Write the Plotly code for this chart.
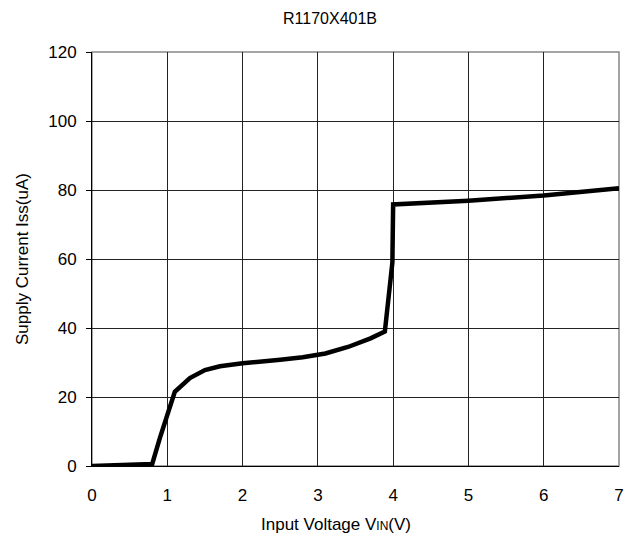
import plotly.graph_objects as go

vin = [0.0, 0.8, 0.9, 1.1, 1.3, 1.5, 1.7, 2.0, 2.5, 2.8, 3.1, 3.4, 3.7, 3.89, 3.99, 4.0, 5.0, 6.0, 7.0]
iss = [0.0, 0.6, 8.0, 21.5, 25.5, 27.8, 28.9, 29.8, 30.8, 31.5, 32.6, 34.5, 37.0, 39.0, 59.0, 75.8, 76.9, 78.4, 80.5]

W, H = 633, 535
L, R, T, B = 84, 22, 44, 77

fig = go.Figure()
fig.add_trace(go.Scatter(x=vin, y=iss, mode="lines",
                         line=dict(color="black", width=4.5), showlegend=False, cliponaxis=False))

font = "Liberation Sans, Arial, sans-serif"
fig.update_layout(
    width=W, height=H,
    margin=dict(l=L, r=R, t=T, b=B),
    paper_bgcolor="white", plot_bgcolor="white",
    font=dict(family=font, size=17, color="black"),
    shapes=[dict(type="rect", xref="paper", yref="paper", x0=0, x1=1, y0=0, y1=1,
                 line=dict(color="#888", width=1.5), layer="below")],
    xaxis=dict(range=[0, 7], dtick=1, showgrid=True, gridcolor="#222", gridwidth=1,
               showline=True, linecolor="black", linewidth=1, zeroline=False,
               ticks="", ticklabelstandoff=14, tickfont=dict(size=17)),
    yaxis=dict(range=[0, 120], dtick=20, showgrid=True, gridcolor="#222", gridwidth=1,
               showline=True, linecolor="black", linewidth=1, zeroline=False,
               ticks="outside", ticklen=5, tickcolor="black", ticklabelstandoff=6,
               tickfont=dict(size=17)),
    annotations=[
        dict(text="R1170X401B", xref="paper", yref="paper",
             x=(322 - L) / (W - L - R), y=1 + (T - 10) / (H - T - B),
             xanchor="center", yanchor="middle", showarrow=False, font=dict(size=16)),
        dict(text="Input Voltage V<span style='font-size:12px'>IN</span>(V)", xref="paper", yref="paper",
             x=(328 - L) / (W - L - R), y=-(516 - (H - B)) / (H - T - B),
             xanchor="center", yanchor="middle", showarrow=False, font=dict(size=17)),
        dict(text="Supply Current Iss(uA)", xref="paper", yref="paper",
             x=-(L - 14) / (W - L - R), y=(H - B - 251) / (H - T - B),
             xanchor="center", yanchor="middle", textangle=-90, showarrow=False, font=dict(size=17)),
    ],
)
fig.write_html("out.html")
